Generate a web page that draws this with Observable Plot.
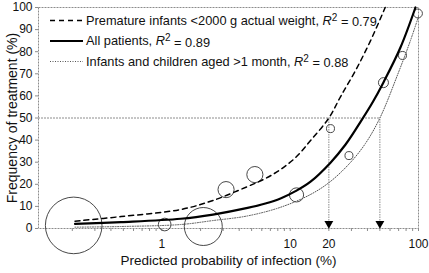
<!DOCTYPE html>
<html>
<head>
<meta charset="utf-8">
<script src="https://cdn.jsdelivr.net/npm/d3@7"></script>
<script src="https://cdn.jsdelivr.net/npm/@observablehq/plot@0.6"></script>
<style>
  body { margin: 0; background: #fff; }
  #chart svg { display: block; }
</style>
</head>
<body>
<div id="chart"></div>
<script>
// Fitted curves: frequency of treatment (%) against predicted probability of infection (%)
const seriesNames = [
  "Premature infants <2000 g actual weight",
  "All patients",
  "Infants and children aged >1 month"
];
const rSquared = [0.79, 0.89, 0.88];

const prematureX = [0.21, 0.48, 1.4, 2.5, 4.65, 6.4, 8.4, 11, 14.4, 20, 24.7, 32.3, 42.3, 55];
const prematureY = [3.3, 5.4, 8.6, 12.7, 19, 22.6, 26.7, 32.1, 39.8, 50, 59.7, 71.5, 85, 100];

const allX = [0.21, 0.48, 1.4, 2.5, 4.65, 6.4, 8.4, 11, 14.4, 20.6, 27, 35.9, 43.8, 53.3, 72.3, 94.7];
const allY = [2.1, 2.9, 4.4, 6.3, 9.3, 11.3, 13.6, 16.9, 21.2, 29.8, 38, 48.9, 57, 66.1, 81.9, 100];

const childrenX = [0.21, 0.48, 1.4, 2.5, 4.65, 8.4, 14.4, 20.6, 29.5, 38.6, 50, 69.8, 86.6, 100];
const childrenY = [0.6, 0.9, 1.8, 3.6, 5.7, 9.6, 15.4, 21.3, 29.9, 38.5, 50, 70.6, 85.1, 95.9];

// Observed groups (circle area ~ number of patients)
const observedX = [0.205, 1.05, 2.1, 3.16, 5.3, 11.2, 20.6, 28.7, 53.3, 75, 99];
const observedY = [1.4, 1.8, 0.9, 17.6, 24.4, 15.2, 45.2, 33, 66, 78.3, 97.3];
const observedN = [800, 40, 360, 65, 65, 50, 16, 16, 25, 16, 20];

// Probabilities at which a curve reaches 50 % treatment
const thresholdX = [20, 50];
const thresholdY = 50;

const xTickValues = [1, 10, 20, 50, 100];
const xMinorTicks = [0.2, 0.3, 0.4, 0.5, 0.6, 0.7, 0.8, 0.9, 1, 2, 3, 4, 5, 6, 7, 8, 9, 10, 20, 30, 40, 50, 60, 70, 80, 90, 100];
const yTickValues = [0, 10, 20, 30, 40, 50, 60, 70, 80, 90, 100];
const xDomain = [0.109, 100];

const zip = (xs, ys) => xs.map((x, i) => ({x, y: ys[i]}));
const premature = zip(prematureX, prematureY);
const allPatients = zip(allX, allY);
const children = zip(childrenX, childrenY);
const observed = observedX.map((x, i) => ({x, y: observedY[i], n: observedN[i]}));

const font = "'Liberation Sans', Arial, Helvetica, sans-serif";
const gridStroke = "#8c8c8c";

const chart = Plot.plot({
  width: 429,
  height: 273,
  marginLeft: 38,
  marginRight: 11,
  marginTop: 7,
  marginBottom: 45,
  style: {fontFamily: font, fontSize: "12px", background: "#fff", color: "#111"},
  x: {type: "log", domain: xDomain},
  y: {domain: [0, 100]},
  r: {domain: [0, 800], range: [0, 28.3]},
  marks: [
    Plot.frame({stroke: gridStroke, strokeDasharray: "2,1"}),
    Plot.ruleY([thresholdY], {x1: xDomain[0], x2: d3.max(thresholdX), stroke: gridStroke, strokeDasharray: "2,1"}),
    Plot.ruleX(thresholdX, {y1: 0, y2: thresholdY, stroke: gridStroke, strokeDasharray: "1.5,1"}),
    Plot.axisY({ticks: yTickValues, tickSize: 3, tickPadding: 3, label: null, stroke: gridStroke, fontSize: 12}),
    Plot.axisX({ticks: xMinorTicks, tickSize: 3, tickFormat: () => "", label: null, stroke: gridStroke}),
    Plot.axisX({ticks: xTickValues, tickSize: 0, tickPadding: 11, tickFormat: d => String(d), label: null, fontSize: 12}),
    Plot.text(["Predicted probability of infection (%)"], {text: d => d, frameAnchor: "bottom", dy: 36, fontSize: 13.5}),
    Plot.text(["Frequency of treatment (%)"], {text: d => d, frameAnchor: "left", textAnchor: "middle", rotate: -90, dx: -26, fontSize: 14}),
    Plot.dot(observed, {x: "x", y: "y", r: "n", stroke: "#333", strokeWidth: 0.9, fill: "none"}),
    Plot.line(children, {x: "x", y: "y", stroke: "#555", strokeWidth: 1, strokeDasharray: "1,1.5", curve: "catmull-rom"}),
    Plot.line(allPatients, {x: "x", y: "y", stroke: "#000", strokeWidth: 2.2, curve: "catmull-rom"}),
    Plot.line(premature, {x: "x", y: "y", stroke: "#000", strokeWidth: 1.5, strokeDasharray: "5,4", curve: "catmull-rom"}),
    Plot.dot(thresholdX, {x: d => d, y: 0, symbol: "triangle", r: 3.3, rotate: 180, fill: "#000", stroke: "none", dy: -5})
  ]
});

document.getElementById("chart").appendChild(chart);

// Legend in the upper-left corner of the plot frame
const svg = d3.select(chart);
const legendStyles = [
  {stroke: "#000", width: 1.5, dash: "5,4"},
  {stroke: "#000", width: 2.2, dash: null},
  {stroke: "#555", width: 1, dash: "1,1.5"}
];
const legend = svg.append("g")
  .attr("font-family", font)
  .attr("font-size", 12.8)
  .attr("fill", "#111")
  .attr("text-anchor", "start");
seriesNames.forEach((name, i) => {
  const cy = 20.5 + i * 20.5;
  const s = legendStyles[i];
  legend.append("line")
    .attr("x1", 50).attr("x2", 83).attr("y1", cy).attr("y2", cy)
    .attr("stroke", s.stroke).attr("stroke-width", s.width)
    .attr("stroke-dasharray", s.dash);
  const t = legend.append("text").attr("x", 86).attr("y", cy).attr("dy", "0.35em");
  t.append("tspan").text(name + ", ");
  t.append("tspan").attr("font-style", "italic").text("R");
  t.append("tspan").attr("dy", "-0.4em").attr("font-size", 10).text("2");
  t.append("tspan").attr("dy", "0.4em").text(" = " + rSquared[i].toFixed(2));
});
</script>
</body>
</html>
